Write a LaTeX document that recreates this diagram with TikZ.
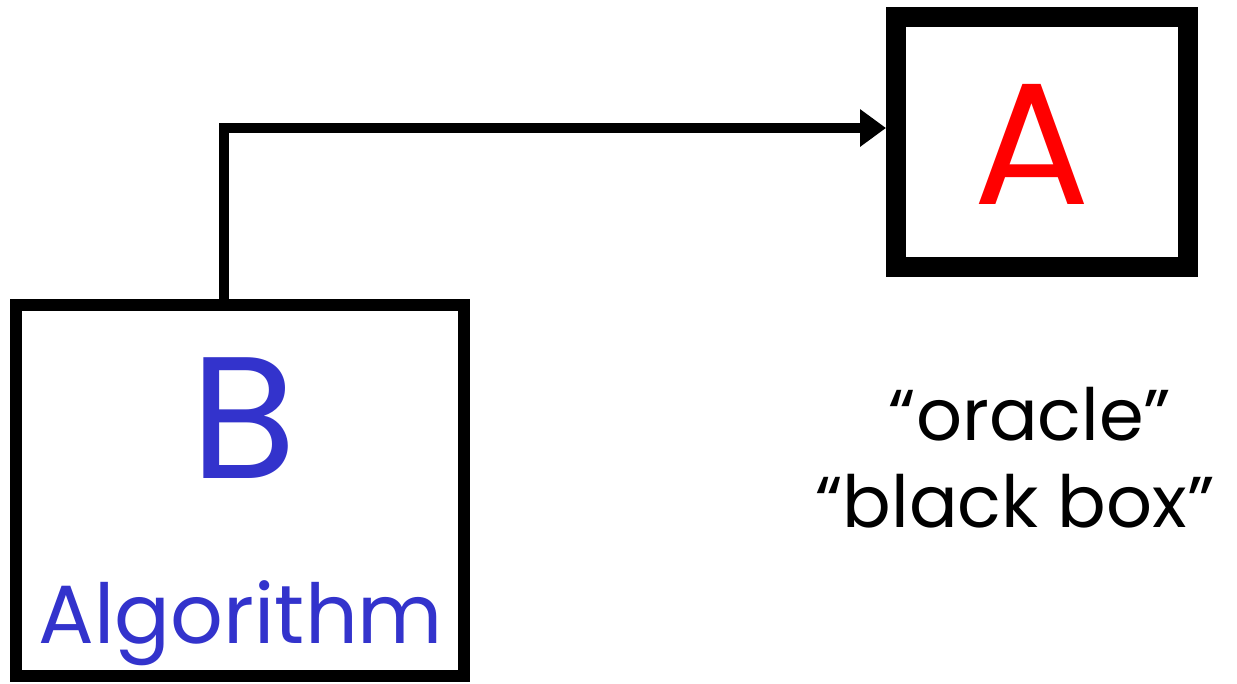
\documentclass[tikz,border=0pt]{standalone}
\usepackage{fontspec}
\setmainfont{Poppins}
\usetikzlibrary{arrows.meta}
\definecolor{algblue}{RGB}{51,51,204}
\definecolor{oraclered}{RGB}{255,0,0}
\tikzset{
  thickbox/.style={draw=black, fill=white, rectangle, inner sep=0pt},
  conn/.style={draw=black, line width=7.5pt, line join=miter,
    -{Triangle[length=19.5pt,width=27pt]}},
  bigletter/.style={anchor=base, inner sep=0pt, font=\fontsize{130}{130}\selectfont},
  caption/.style={anchor=base, inner sep=0pt, font=\fontsize{54}{56}\selectfont},
}
\begin{document}
\begin{tikzpicture}[x=0.75pt,y=-0.75pt]
  \useasboundingbox (0,0) rectangle (1237,683);

  % the oracle box
  \node[thickbox, line width=15pt, minimum width=219pt, minimum height=187.5pt]
    (Abox) at (1042,142) {};
  \node[bigletter, text=oraclered] (Alabel) at (1032,204) {A};

  % the algorithm box
  \node[thickbox, line width=9pt, minimum width=336pt, minimum height=278.25pt]
    (Bbox) at (240,490.5) {};
  \node[bigletter, text=algblue] (Blabel) at (244,478) {B};
  \node[anchor=base, inner sep=0pt, text=algblue, font=\fontsize{62}{64}\selectfont]
    (Balg) at (241,643) {Algorithm};

  % query from B to A
  \coordinate (corner) at (224,128);
  \draw[conn] (Bbox.north -| corner) -- (corner) -- ([yshift=10.5pt]Abox.west);

  % description of A
  \node[caption] (orc) at (1030,440) {“oracle”};
  \node[caption] (bbx) at (1015,527) {“black box”};
\end{tikzpicture}
\end{document}
